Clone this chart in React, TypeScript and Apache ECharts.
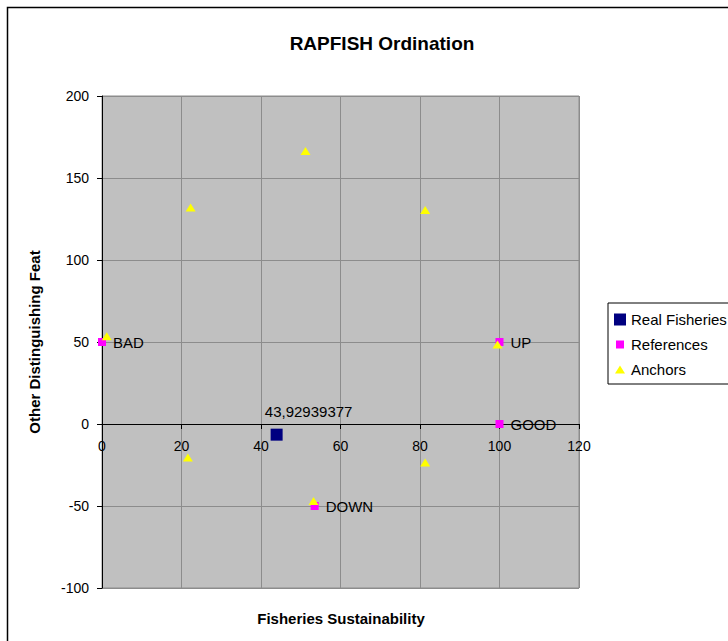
import React, { useEffect, useRef } from "react";
import * as echarts from "echarts";

const titleText = "RAPFISH Ordination";
const xTitle = "Fisheries Sustainability";
const yTitle = "Other Distinguishing Feat";

const realFisheries: [number, number][] = [[43.93, -6.5]];
const realLabel = "43,92939377";

const referenceNames = ["BAD", "UP", "GOOD", "DOWN"];
const referenceValues: [number, number][] = [
  [0, 50],
  [100, 50],
  [100, 0],
  [53.5, -50],
];

const anchorValues: [number, number][] = [
  [1.2, 53.5],
  [22.3, 132],
  [51.2, 166.5],
  [81.3, 130.5],
  [99.5, 48.5],
  [21.6, -20.5],
  [53.2, -47],
  [81.3, -23.5],
];

const FONT = "'Liberation Sans', Arial, sans-serif";

const GRID_TOP = 96;
const GRID_BOTTOM_PX = 588;
const Y_MIN = -100;
const Y_MAX = 200;

export default function App() {
  const ref = useRef<HTMLDivElement>(null);
  useEffect(() => {
    if (!ref.current) return;
    const chart = echarts.init(ref.current, undefined, { renderer: "svg" });
    const zeroPx = GRID_TOP + ((Y_MAX - 0) / (Y_MAX - Y_MIN)) * (GRID_BOTTOM_PX - GRID_TOP);
    chart.setOption({
      animation: false,
      backgroundColor: "#ffffff",
      textStyle: { fontFamily: FONT },
      title: {
        text: titleText,
        left: 377,
        top: 29,
        textAlign: "center",
        textStyle: { fontFamily: FONT, fontSize: 19, fontWeight: "bold", color: "#000" },
      },
      graphic: [
        {
          type: "rect",
          shape: { x: 7.5, y: 7.5, width: 800, height: 700 },
          style: { fill: "none", stroke: "#000", lineWidth: 1.5 },
          silent: true,
        },
        {
          type: "text",
          x: 341,
          y: 618,
          style: {
            text: xTitle,
            fontFamily: FONT,
            fontSize: 15,
            fontWeight: "bold",
            fill: "#000",
            textAlign: "center",
            textVerticalAlign: "middle",
          },
          silent: true,
        },
      ],
      legend: {
        orient: "vertical",
        left: 608,
        top: 303,
        padding: [9, 30, 7, 6],
        itemGap: 10,
        itemWidth: 12,
        itemHeight: 12,
        borderColor: "#000",
        borderWidth: 1,
        backgroundColor: "#fff",
        textStyle: { fontFamily: FONT, fontSize: 15, color: "#000", lineHeight: 15 },
        data: [
          { name: "Real Fisheries", icon: "rect" },
          { name: "References", icon: "path://M0,0 M12,12 M2,2 L10,2 L10,10 L2,10 Z" },
          { name: "Anchors", icon: "path://M0,0 M12,12 M6,2 L11,10 L1,10 Z" },
        ],
      },
      grid: {
        left: 102,
        right: 149,
        top: GRID_TOP,
        bottom: 641 - GRID_BOTTOM_PX,
        show: true,
        backgroundColor: "#c0c0c0",
        borderColor: "#8c8c8c",
        borderWidth: 1,
      },
      xAxis: {
        type: "value",
        position: "bottom",
        min: 0,
        max: 120,
        interval: 20,
        offset: -(GRID_BOTTOM_PX - zeroPx),
        axisLine: { show: true, onZero: false, lineStyle: { color: "#000", width: 1 } },
        axisTick: { show: true, length: 5, lineStyle: { color: "#000" } },
        axisLabel: { fontFamily: FONT, fontSize: 14, color: "#000", margin: 15 },
        splitLine: { show: true, lineStyle: { color: "#8c8c8c", width: 1 } },
      },
      yAxis: {
        type: "value",
        min: Y_MIN,
        max: Y_MAX,
        interval: 50,
        name: yTitle,
        nameLocation: "middle",
        nameGap: 60,
        nameTextStyle: { fontFamily: FONT, fontSize: 15, fontWeight: "bold", color: "#000" },
        axisLine: { show: true, onZero: false, lineStyle: { color: "#000", width: 1 } },
        axisTick: { show: true, length: 5, lineStyle: { color: "#000" } },
        axisLabel: { fontFamily: FONT, fontSize: 14, color: "#000", margin: 13 },
        splitLine: { show: true, lineStyle: { color: "#8c8c8c", width: 1 } },
      },
      series: [
        {
          name: "Real Fisheries",
          type: "scatter",
          symbol: "rect",
          symbolSize: 12,
          itemStyle: { color: "#000080", opacity: 1 },
          data: realFisheries,
          label: {
            show: true,
            position: "top",
            offset: [32, -5],
            formatter: realLabel,
            fontFamily: FONT,
            fontSize: 15,
            color: "#000",
          },
        },
        {
          name: "References",
          type: "scatter",
          symbol: "rect",
          symbolSize: 8,
          itemStyle: { color: "#ff00ff", opacity: 1 },
          data: referenceValues.map((v, i) => ({ value: v, name: referenceNames[i] })),
          label: {
            show: true,
            position: "right",
            distance: 7,
            formatter: "{b}",
            fontFamily: FONT,
            fontSize: 15,
            color: "#000",
          },
        },
        {
          name: "Anchors",
          type: "scatter",
          symbol: "triangle",
          symbolSize: [10, 8],
          itemStyle: { color: "#ffff00", opacity: 1 },
          data: anchorValues,
        },
      ],
    });
    return () => chart.dispose();
  }, []);
  return (
    <div
      ref={ref}
      style={{ position: "fixed", left: 0, top: 0, width: 728, height: 641 }}
    />
  );
}
